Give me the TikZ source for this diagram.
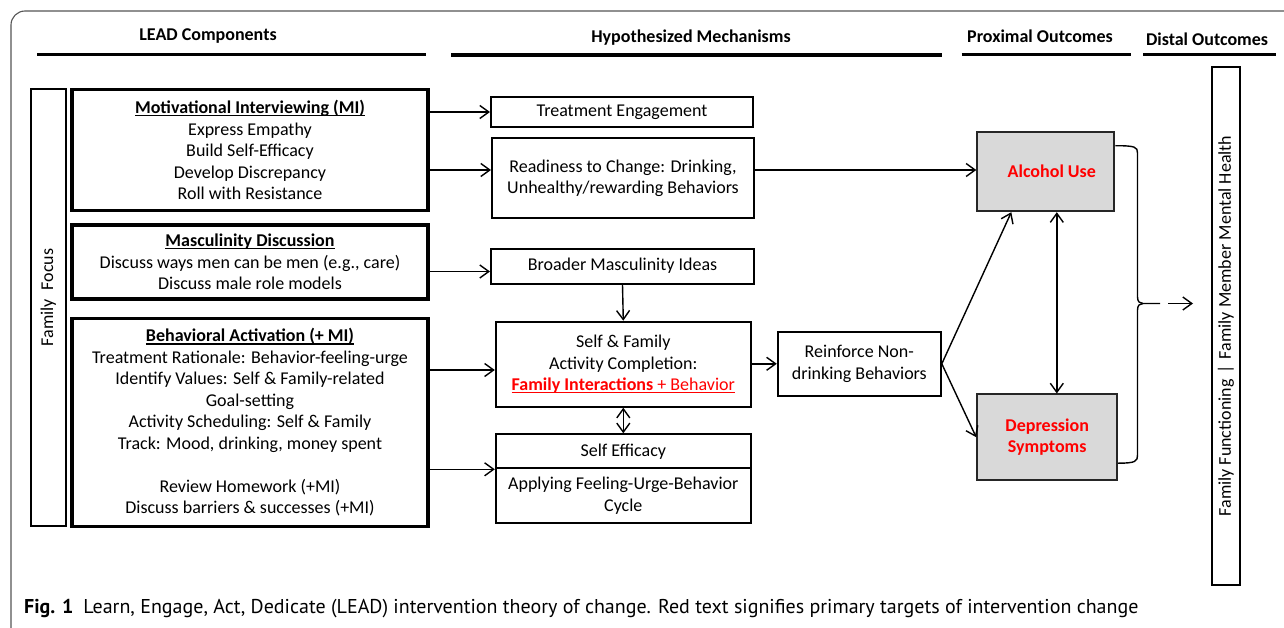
\documentclass[tikz,border=0pt]{standalone}
\usepackage{fontspec}
\setmainfont{Carlito}
\newfontfamily\capfont{PT Sans}
\usetikzlibrary{arrows.meta}
\definecolor{boxgray}{HTML}{D9D9D9}
\definecolor{framegray}{HTML}{555555}
\newlength\ulwd
\newcommand\myul[1]{\settowidth\ulwd{#1}\rlap{#1}\rule[-2.6pt]{\ulwd}{1.1pt}}
\begin{document}
\begin{tikzpicture}[x=1pt,y=-1pt,font=\fontsize{18}{21.5}\selectfont,
  lead/.style={draw,line width=3.2pt,align=center,inner sep=0pt},
  mech/.style={draw,line width=2pt,align=center,inner sep=0pt},
  outc/.style={draw=black!85,fill=boxgray,line width=2pt,align=center,inner sep=0pt,text=red,font=\fontsize{18}{21.5}\selectfont\bfseries},
  hdr/.style={inner sep=0pt,font=\fontsize{18}{21}\selectfont\bfseries},
  hline/.style={line width=3.2pt},
  conn/.style={line width=1.4pt,-{Straight Barb[length=9pt,width=13pt,line width=1.4pt]}},
  dconn/.style={line width=1.4pt,{Straight Barb[length=9pt,width=13pt,line width=1.4pt]}-{Straight Barb[length=9pt,width=13pt,line width=1.4pt]}},
  brace/.style={line width=1.4pt}]
\useasboundingbox (0,0) rectangle (1284,628);
% frame
\draw[framegray,line width=1.1pt,rounded corners=14pt] (11,628) -- (11,11) -- (1300,11);
% headers
\node[hdr] (h1) at (208,36) {LEAD Components};
\node[hdr] (h2) at (691,38) {Hypothesized Mechanisms};
\node[hdr] (h3) at (1040,36) {Proximal Outcomes};
\node[hdr] (h4) at (1207,39) {Distal Outcomes};
\coordinate (l1a) at (37,54.3); \coordinate (l1b) at (425.7,54.3);
\coordinate (l2a) at (451,55); \coordinate (l2b) at (941.7,55);
\coordinate (l3a) at (961.7,54.3); \coordinate (l3b) at (1130.7,54.3);
\coordinate (l4a) at (1143,54.5); \coordinate (l4b) at (1276,54.5);
\draw[hline] (l1a) -- (l1b);
\draw[hline] (l2a) -- (l2b);
\draw[hline] (l3a) -- (l3b);
\draw[hline] (l4a) -- (l4b);
% family focus
\node[mech,minimum width=35pt,minimum height=437pt] (ff) at (48.3,307.5) {};
\node[rotate=90,inner sep=0pt] (fft) at (48.3,297.5) {Family\hspace{9pt}Focus};
% LEAD components
\node[lead,minimum width=356pt,minimum height=121pt] (mi) at (250,150)
  {\myul{\textbf{Motivational Interviewing (MI)}}\\Express Empathy\\Build Self-Efficacy\\Develop Discrepancy\\Roll with Resistance};
\node[lead,minimum width=356pt,minimum height=74pt] (ms) at (250,262)
  {\myul{\textbf{Masculinity Discussion}}\\Discuss ways men can be men (e.g., care)\\Discuss male role models};
\node[lead,minimum width=356pt,minimum height=208pt] (ba) at (250,422.5)
  {\myul{\textbf{Behavioral Activation (+ MI)}}\\Treatment Rationale: Behavior-feeling-urge\\Identify Values: Self \& Family-related\\Goal-setting\\Activity Scheduling: Self \& Family\\Track: Mood, drinking, money spent\\[21.5pt]Review Homework (+MI)\\Discuss barriers \& successes (+MI)};
% mechanisms
\node[mech,minimum width=262pt,minimum height=30pt] (te) at (622,112) {Treatment Engagement};
\node[mech,minimum width=262pt,minimum height=80pt] (rc) at (623,178.3) {Readiness to Change: Drinking,\\Unhealthy/rewarding Behaviors};
\node[mech,minimum width=263pt,minimum height=35pt] (bm) at (622.5,266.2) {Broader Masculinity Ideas};
\node[mech,minimum width=255pt,minimum height=85pt] (sf) at (623.3,364.2)
  {Self \& Family\\Activity Completion:\\\textcolor{red}{\myul{\textbf{Family Interactions} + Behavior}}};
\node[mech,minimum width=255pt,minimum height=34pt] (se1) at (623.3,451.3) {Self Efficacy};
\node[mech,minimum width=255pt,minimum height=54.4pt] (se2) at (623.3,495.5) {Applying Feeling-Urge-Behavior\\Cycle};
\node[mech,minimum width=163pt,minimum height=64pt] (rn) at (859.3,363.8) {Reinforce Non-\\drinking Behaviors};
% outcomes
\node[outc,minimum width=137pt,minimum height=79pt] (al) at (1045.8,171.7) {\hspace{12pt}Alcohol Use};
\node[outc,minimum width=140pt,minimum height=85.5pt] (dp) at (1047.2,437.2) {Depression\\Symptoms};
\node[mech,rotate=90,minimum width=517pt,minimum height=28pt] (dist) at (1226,326)
  {Family Functioning\hspace{6pt}|\hspace{6pt}Family Member Mental Health};
% connectors
\coordinate (y170) at (0,170);
\coordinate (y271) at (0,271.5);
\coordinate (y370) at (0,370);
\draw[conn] (mi.east |- te.west) -- (te.west);
\draw[conn] (mi.east |- y170) -- (rc.west |- y170);
\draw[conn] (rc.east |- y170) -- (al.west |- y170);
\draw[conn] (ms.east |- y271) -- (bm.west |- y271);
\draw[conn] (ba.east |- y370) -- (sf.west |- y370);
\draw[conn] (ba.east |- se1.south) -- (se1.south west);
\draw[conn] (bm.south) -- (sf.north);
\draw[dconn] (sf.south) -- (se1.north);
\draw[conn] (sf.east |- rn.west) -- (rn.west);
\draw[conn] (rn.east) -- ([xshift=35pt]al.south west);
\draw[conn] (rn.east) -- (dp.west);
\draw[dconn] ([xshift=11pt]al.south) -- ([xshift=11pt]al.south |- dp.north);
% brace
\coordinate (btip) at (1160,303.5);
\coordinate (bmid) at (1143,303.5);
\draw[brace] ([yshift=26pt]al.east) .. controls +(20,0) and +(0,-6) .. (1137.5,153) -- (1137.5,297) .. controls +(0,5) and +(-3,0) .. (bmid) -- (btip);
\draw[brace] ([yshift=-26pt]dp.east) .. controls +(18,0) and +(0,6) .. (1137.5,455) -- (1137.5,310) .. controls +(0,-5) and +(-3,0) .. (bmid);
\coordinate (dstart) at (1168,303.5);
\coordinate (dend) at (1193,303.5);
\draw[conn] (dstart) -- (dend);
% caption
\node[anchor=base west,inner sep=0pt] (cap) at (24,613)
  {\capfont\fontsize{20}{24}\selectfont\textbf{Fig. 1}\hspace{10pt}Learn, Engage, Act, Dedicate (LEAD) intervention theory of change. Red text signifies primary targets of intervention change};
\end{tikzpicture}
\end{document}
